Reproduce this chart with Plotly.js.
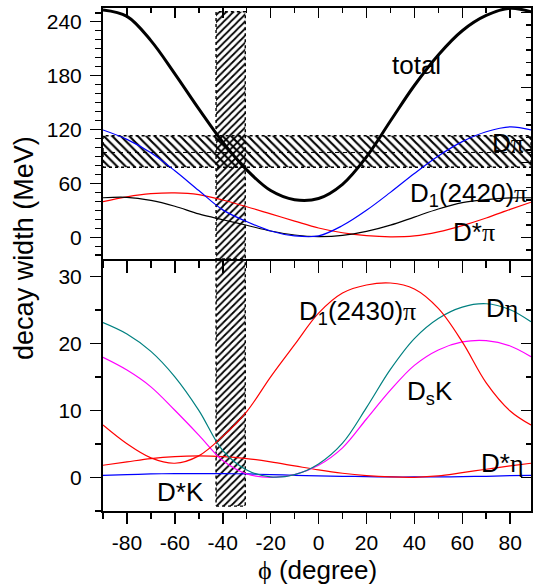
<!DOCTYPE html>
<html>
<head>
<meta charset="utf-8">
<script src="https://cdn.plot.ly/plotly-3.0.1.min.js"></script>
<style>html,body{margin:0;padding:0;background:#fff;}#chart{width:534px;height:586px;}</style>
</head>
<body>
<div id="chart"></div>
<script>
// ---- data ----
const phi = [-90,-80,-70,-60,-50,-40,-30,-20,-10,0,10,20,30,40,50,60,70,80,88.7];
// top panel (MeV)
const total    = [253,246,219,182,143,106,75,52,41.8,43.2,59,89.5,129.5,169,203,230,247,255,251];
const dPi      = [119.5,109,94,74,52,30.5,17.5,7,1.5,1.5,13,30,50,71,90.5,106.5,117.5,123,119.5];
const d1_2420  = [44,44.5,41,34.5,26,19.5,13.4,7,2.5,0.7,2,6.5,13.5,22.5,31.5,38.5,42,43.8,44];
const dStarPi  = [39.6,45,48.5,49.5,47.5,41.5,34,26,18,10.3,5,1.8,0.5,1.5,6,13,21.5,31,39];
// bottom panel (MeV)
const d1_2430  = [7.8,5,2.9,2.1,3.2,6.1,9.8,15,19.8,24.5,27.5,28.7,29,28.1,25.2,20.2,14.1,9.9,7.8];
const dEta     = [23.1,21.4,18.8,15,10,4,1.1,0.05,0.4,2,5.1,10.4,16.1,20.7,23.7,25.4,25.9,25,23.2];
const dsK      = [17.9,16,13.5,10,6.3,2.5,0.5,0,0.4,1.8,4.4,8.7,13,16.7,19,20.2,20.4,19.6,18];
const dStarEta = [1.8,2.3,2.8,3.1,3.2,3.1,2.8,2.3,1.7,1.1,0.6,0.25,0.05,0,0.2,0.7,1.2,1.7,2.1];
const dStarK   = [0.3,0.4,0.5,0.55,0.55,0.55,0.5,0.4,0.3,0.2,0.15,0.1,0.05,0.05,0.05,0.1,0.15,0.25,0.3];
// hatched bands
const phiBand = [-42.8, -30.6];          // vertical band (degree)
const phiBandTop = 251.2, phiBandBottom = -4.3;
const widthBand = [77.9, 113.1];         // horizontal band (MeV)
const widthBandMid = 94.4;
// ticks
const xTickVals = [-80,-60,-40,-20,0,20,40,60,80];
const xTickText = ['-80','-60','-40','-20','0','20','40','60','80'];
const yTopTickVals = [0,60,120,180,240];
const yTopTickText = ['0','60','120','180','240'];
const yBotTickVals = [0,10,20,30];
const yBotTickText = ['0','10','20','30'];

// ---- ranges ----
const xRange = [-90, 88.7];
const yTopRange = [-24.2, 255.3];
const yBotRange = [-5.03, 32.58];

const FONT = 'Liberation Sans, Arial, Helvetica, sans-serif';
const GREEK = 'Liberation Serif, Times New Roman, serif';
const g = s => '<span style="font-family:' + GREEK + '">' + s + '</span>';

function curve(y, color, width, top) {
  return {x: phi, y: y, mode: 'lines', type: 'scatter',
    line: {color: color, width: width, shape: 'spline', smoothing: 1},
    xaxis: top ? 'x2' : 'x', yaxis: top ? 'y' : 'y2', hoverinfo: 'skip'};
}
function box(x0, x1, y0, y1, shape, size, top) {
  return {x: [x0, x1, x1, x0, x0], y: [y0, y0, y1, y1, y0], mode: 'lines', type: 'scatter',
    fill: 'toself', fillcolor: 'rgba(0,0,0,0)',
    fillpattern: {shape: shape, size: size, solidity: 0.35, fgcolor: 'black', bgcolor: 'rgba(0,0,0,0)'},
    line: {color: 'black', width: 1.4, dash: 'dot'},
    xaxis: top ? 'x2' : 'x', yaxis: top ? 'y' : 'y2', hoverinfo: 'skip'};
}

const traces = [
  box(xRange[0], xRange[1], widthBand[0], widthBand[1], '\\', 6, true),
  {x: xRange, y: [widthBandMid, widthBandMid], mode: 'lines', type: 'scatter',
   line: {color: 'black', width: 1, dash: '4px,4px'}, xaxis: 'x2', yaxis: 'y', hoverinfo: 'skip'},
  box(phiBand[0], phiBand[1], yTopRange[0], phiBandTop, '/', 5, true),
  box(phiBand[0], phiBand[1], phiBandBottom, yBotRange[1], '/', 5, false),
  curve(dStarPi, '#ff0000', 1.2, true),
  curve(d1_2420, '#000000', 1.2, true),
  curve(dPi, '#0000ff', 1.2, true),
  curve(total, '#000000', 3, true),
  curve(dStarK, '#0000ff', 1.2, false),
  curve(dStarEta, '#ff0000', 1.2, false),
  curve(dsK, '#ff00ff', 1.2, false),
  curve(dEta, '#008080', 1.2, false),
  curve(d1_2430, '#ff0000', 1.2, false),
  {x: [], y: [], xaxis: 'x3', yaxis: 'y', type: 'scatter', mode: 'lines'},
  {x: [], y: [], xaxis: 'x4', yaxis: 'y2', type: 'scatter', mode: 'lines'},
  {x: [], y: [], xaxis: 'x2', yaxis: 'y3', type: 'scatter', mode: 'lines'},
  {x: [], y: [], xaxis: 'x', yaxis: 'y4', type: 'scatter', mode: 'lines'}
];

const base = {showgrid: false, zeroline: false, showline: true, linecolor: 'black', linewidth: 2,
  tickcolor: 'black', tickwidth: 1.5, tickfont: {family: FONT, size: 21, color: 'black'}, fixedrange: true};

const layout = {
  width: 534, height: 586,
  margin: {l: 103, r: 3, t: 8, b: 75, pad: 0},
  paper_bgcolor: 'white', plot_bgcolor: 'white',
  showlegend: false,
  font: {family: FONT, color: 'black'},
  // bottom axis: labels only (ticks drawn by xaxis4)
  xaxis: Object.assign({}, base, {domain: [0, 1], anchor: 'y2', range: xRange,
    tickmode: 'array', tickvals: xTickVals, ticktext: xTickText,
    ticks: '', ticklabelstandoff: 12}),
  xaxis4: Object.assign({}, base, {overlaying: 'x', side: 'bottom', anchor: 'y2', range: xRange,
    tickmode: 'array', tickvals: xTickVals, showticklabels: false,
    ticks: 'outside', ticklen: 11,
    minor: {tickmode: 'linear', tick0: -90, dtick: 10, ticks: 'outside', ticklen: 6, tickwidth: 1.5, tickcolor: 'black'}}),
  xaxis2: Object.assign({}, base, {domain: [0, 1], anchor: 'y', range: xRange,
    tickmode: 'array', tickvals: xTickVals, showticklabels: false,
    ticks: 'outside', ticklen: 12,
    minor: {tickmode: 'linear', tick0: -90, dtick: 10, ticks: 'outside', ticklen: 7, tickwidth: 1.5, tickcolor: 'black'}}),
  xaxis3: Object.assign({}, base, {overlaying: 'x2', side: 'top', anchor: 'y', range: xRange,
    tickmode: 'array', tickvals: xTickVals, showticklabels: false,
    ticks: 'inside', ticklen: 10,
    minor: {tickmode: 'linear', tick0: -90, dtick: 10, ticks: 'inside', ticklen: 5, tickwidth: 1.5, tickcolor: 'black'}}),
  yaxis: Object.assign({}, base, {domain: [0.501, 1], anchor: 'x2', range: yTopRange,
    tickmode: 'array', tickvals: yTopTickVals, ticktext: yTopTickText,
    ticks: 'outside', ticklen: 11, ticklabelstandoff: 4,
    minor: {tickmode: 'linear', tick0: 0, dtick: 10, ticks: 'outside', ticklen: 6, tickwidth: 1.5, tickcolor: 'black'}}),
  yaxis2: Object.assign({}, base, {domain: [0, 0.501], anchor: 'x', range: yBotRange,
    tickmode: 'array', tickvals: yBotTickVals, ticktext: yBotTickText,
    ticks: 'outside', ticklen: 11, ticklabelstandoff: 4,
    minor: {tickmode: 'linear', tick0: 0, dtick: 5, ticks: 'outside', ticklen: 6, tickwidth: 1.5, tickcolor: 'black'}}),
  yaxis3: Object.assign({}, base, {overlaying: 'y', side: 'right', anchor: 'x2', range: [-1.736, 18.34],
    tickmode: 'linear', tick0: 0, dtick: 6, showticklabels: false,
    ticks: 'inside', ticklen: 10,
    minor: {tickmode: 'linear', tick0: 0, dtick: 1, ticks: 'inside', ticklen: 5, tickwidth: 1.5, tickcolor: 'black'}}),
  yaxis4: Object.assign({}, base, {overlaying: 'y2', side: 'right', anchor: 'x', range: yBotRange,
    tickmode: 'linear', tick0: 0, dtick: 10, showticklabels: false,
    ticks: 'inside', ticklen: 10,
    minor: {tickmode: 'linear', tick0: 0, dtick: 5, ticks: 'inside', ticklen: 5, tickwidth: 1.5, tickcolor: 'black'}}),
  annotations: [
    {text: 'decay width (MeV)', xref: 'paper', yref: 'paper', x: -0.1846, y: 0.523, textangle: -90,
     showarrow: false, font: {family: FONT, size: 27, color: 'black'}, xanchor: 'center', yanchor: 'middle'},
    {text: g('ϕ') + ' (degree)', xref: 'paper', yref: 'paper', x: 0.5, y: -0.117,
     showarrow: false, font: {family: FONT, size: 26, color: 'black'}, xanchor: 'center', yanchor: 'middle'},
    {text: 'total', xref: 'x2', yref: 'y', x: 41.1, y: 191.9},
    {text: 'D' + g('π'), xref: 'x2', yref: 'y', x: 78.9, y: 105},
    {text: 'D<sub>1</sub>(2420)' + g('π'), xref: 'x2', yref: 'y', x: 62.4, y: 48},
    {text: 'D*' + g('π'), xref: 'x2', yref: 'y', x: 64.9, y: 6.2},
    {text: 'D<sub>1</sub>(2430)' + g('π'), xref: 'x', yref: 'y2', x: 16.3, y: 24.6},
    {text: 'D' + g('η'), xref: 'x', yref: 'y2', x: 76.4, y: 25.2},
    {text: 'D<sub>s</sub>K', xref: 'x', yref: 'y2', x: 46.5, y: 12.7},
    {text: 'D*' + g('η'), xref: 'x', yref: 'y2', x: 76.8, y: 2.2},
    {text: 'D*K', xref: 'x', yref: 'y2', x: -57.8, y: -2.2}
  ].map((a, i) => i < 2 ? a : Object.assign({showarrow: false, xanchor: 'center', yanchor: 'middle',
      font: {family: FONT, size: 26, color: 'black'}}, a))
};

Plotly.newPlot('chart', traces, layout, {staticPlot: true, displayModeBar: false});
</script>
</body>
</html>
